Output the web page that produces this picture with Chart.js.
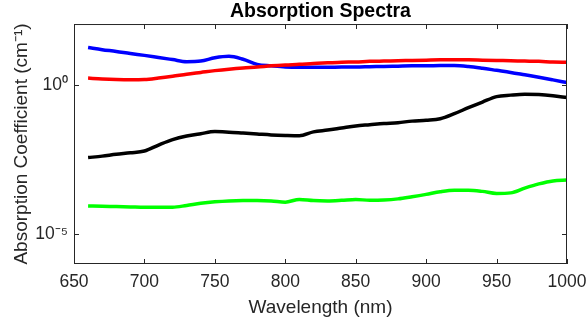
<!DOCTYPE html>
<html>
<head>
<meta charset="utf-8">
<script src="https://cdn.jsdelivr.net/npm/chart.js@4/dist/chart.umd.min.js"></script>
<style>
  html, body { margin: 0; padding: 0; background: #fff; }
  #wrap { width: 588px; height: 325px; }
</style>
</head>
<body>
<div id="wrap"><canvas id="spectraChart"></canvas></div>
<script>
const wavelengths = [660, 670, 680, 690, 700, 710, 720, 730, 740, 750, 760, 770, 780, 790, 800, 810, 820, 830, 840, 850,
    860, 870, 880, 890, 900, 910, 920, 930, 940, 950, 960, 970, 980, 990, 1000];

const redSeries = [1.66, 1.55, 1.48, 1.45, 1.48, 1.66, 1.91, 2.24, 2.57, 2.95, 3.31, 3.63, 3.89, 4.27, 4.57, 4.79, 5.13, 5.37,
    5.62, 5.75, 6.03, 6.17, 6.31, 6.46, 6.61, 6.76, 6.76, 6.76, 6.61, 6.46, 6.31, 6.17, 6.03, 5.75, 5.62];

const blueSeries = [17.4, 14.8, 12.9, 11.0, 9.55, 8.13, 6.92, 5.89, 6.17, 7.94, 8.91, 7.08, 4.79, 4.27, 3.89, 3.80, 3.80, 3.80,
    3.89, 3.89, 3.98, 4.07, 4.17, 4.27, 4.27, 4.37, 4.37, 4.07, 3.55, 3.02, 2.57, 2.14, 1.78, 1.45, 1.17];

const blackSeries = [3.63e-3, 4.07e-3, 4.68e-3, 5.25e-3, 6.03e-3, 9.55e-3, 1.45e-2, 1.91e-2, 2.29e-2, 2.69e-2, 2.57e-2, 2.40e-2,
    2.24e-2, 2.09e-2, 2.00e-2, 1.95e-2, 2.63e-2, 3.02e-2, 3.55e-2, 4.17e-2, 4.57e-2, 5.01e-2, 5.37e-2, 6.03e-2, 6.46e-2,
    7.24e-2, 0.107, 0.170, 0.263, 0.398, 0.447, 0.479, 0.468, 0.427, 0.372];

const greenSeries = [8.71e-5, 8.51e-5, 8.32e-5, 8.13e-5, 7.94e-5, 7.94e-5, 7.94e-5, 9.12e-5, 1.07e-4, 1.20e-4, 1.29e-4, 1.32e-4,
    1.32e-4, 1.29e-4, 1.17e-4, 1.45e-4, 1.32e-4, 1.29e-4, 1.35e-4, 1.45e-4, 1.35e-4, 1.38e-4, 1.51e-4, 1.78e-4, 2.14e-4,
    2.63e-4, 2.95e-4, 2.95e-4, 2.69e-4, 2.29e-4, 2.40e-4, 3.47e-4, 4.79e-4, 6.03e-4, 6.46e-4];

const xTicks = [650, 700, 750, 800, 850, 900, 950, 1000];
const yTicks = [1e-5, 1e0];
const yTickLabels = ['10\u207B\u2075', '10\u2070'];

const axisColor = '#262626';
const fontFamily = '"Liberation Sans", Arial, Helvetica, sans-serif';

function points(series) {
    return wavelengths.map((w, i) => ({x: w, y: series[i]}));
}

function line(data, color) {
    return {
        data: points(data),
        borderColor: color,
        backgroundColor: color,
        borderWidth: 3.5,
        pointRadius: 0,
        cubicInterpolationMode: 'monotone',
        fill: false
    };
}

// MATLAB style box with inward ticks
const boxPlugin = {
    id: 'box',
    afterDraw(chart) {
        const {ctx, chartArea: a, scales: {x, y}} = chart;
        ctx.save();
        ctx.strokeStyle = axisColor;
        ctx.lineWidth = 1;
        ctx.strokeRect(a.left + 0.5, a.top + 0.5, a.right - a.left - 1, a.bottom - a.top - 1);
        ctx.beginPath();
        xTicks.forEach(v => {
            const px = Math.round(x.getPixelForValue(v)) + 0.5;
            ctx.moveTo(px, a.bottom); ctx.lineTo(px, a.bottom - 5);
            ctx.moveTo(px, a.top); ctx.lineTo(px, a.top + 5);
        });
        yTicks.forEach(v => {
            const py = Math.round(y.getPixelForValue(v)) + 0.5;
            ctx.moveTo(a.left, py); ctx.lineTo(a.left + 5, py);
            ctx.moveTo(a.right, py); ctx.lineTo(a.right - 5, py);
        });
        ctx.stroke();
        ctx.restore();
    }
};

const ctx = document.getElementById('spectraChart').getContext('2d');
new Chart(ctx, {
    type: 'line',
    data: {
        datasets: [
            line(redSeries, '#ff0000'),
            line(blueSeries, '#0000ff'),
            line(blackSeries, '#000000'),
            line(greenSeries, '#00ff00')
        ]
    },
    options: {
        responsive: true,
        maintainAspectRatio: false,
        animation: false,
        layout: {padding: {left: 0, right: 21, top: 0, bottom: 0}},
        plugins: {
            legend: {display: false},
            tooltip: {enabled: false},
            title: {
                display: true,
                text: 'Absorption Spectra',
                fullSize: false,
                color: '#000',
                font: {family: fontFamily, size: 19.5, weight: 'bold', lineHeight: 1.15},
                padding: {top: 0, bottom: 1.6}
            }
        },
        scales: {
            x: {
                type: 'linear',
                min: 650,
                max: 1000,
                afterBuildTicks: scale => { scale.ticks = xTicks.map(v => ({value: v})); },
                afterFit: scale => {
                    scale.height = 61;
                    scale.paddingLeft = 0;
                    scale.paddingRight = 0;
                },
                grid: {display: true, drawOnChartArea: false, drawTicks: false, tickLength: 0},
                border: {display: false},
                ticks: {
                    color: axisColor,
                    padding: 8,
                    maxRotation: 0,
                    font: {family: fontFamily, size: 17.5},
                    callback: v => String(v)
                },
                title: {
                    display: true,
                    text: 'Wavelength (nm)',
                    color: axisColor,
                    font: {family: fontFamily, size: 19},
                    padding: {top: 0, bottom: 6}
                }
            },
            y: {
                type: 'logarithmic',
                min: 1e-6,
                max: 107,
                afterBuildTicks: scale => { scale.ticks = yTicks.map(v => ({value: v})); },
                afterFit: scale => {
                    scale.width = 74;
                    scale.paddingTop = 0;
                    scale.paddingBottom = 0;
                },
                grid: {display: true, drawOnChartArea: false, drawTicks: false, tickLength: 0},
                border: {display: false},
                ticks: {
                    color: axisColor,
                    padding: 6,
                    font: {family: fontFamily, size: 17.5},
                    callback: (v, i) => yTickLabels[i]
                },
                title: {
                    display: true,
                    text: 'Absorption Coefficient (cm\u207B\u00B9)',
                    color: axisColor,
                    font: {family: fontFamily, size: 19},
                    padding: {top: 10, bottom: 0}
                }
            }
        }
    },
    plugins: [boxPlugin]
});
</script>
</body>
</html>
